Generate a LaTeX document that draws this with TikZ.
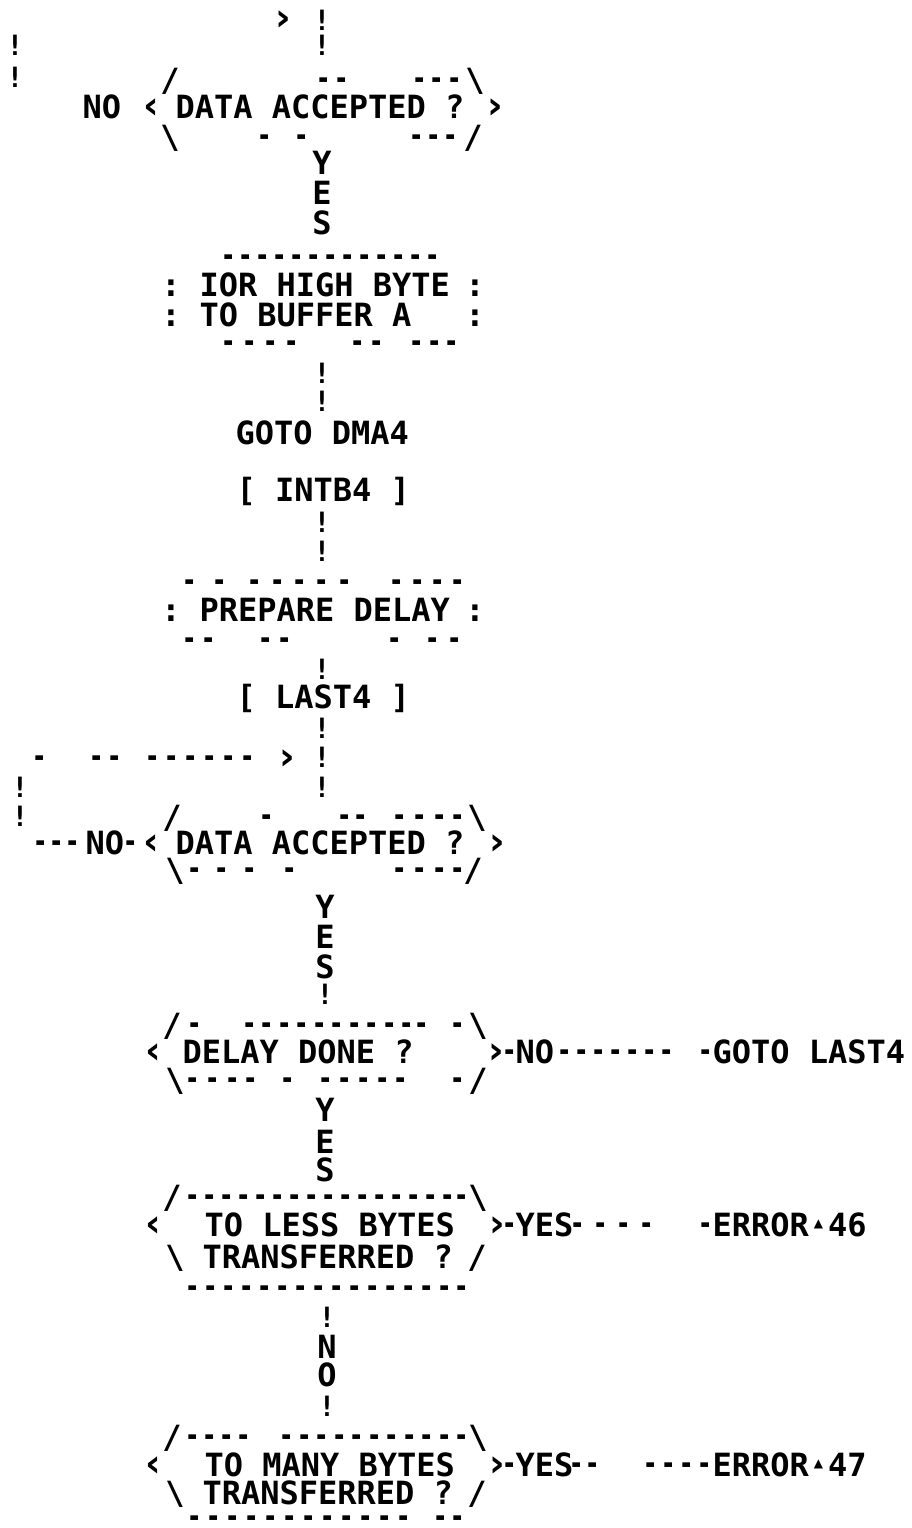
\documentclass[tikz,border=0pt]{standalone}
\usepackage{fontspec}
\newfontfamily\mono{DejaVu Sans Mono}
\newfontfamily\sym{DejaVu Sans}
\tikzset{
  base/.style={inner sep=0pt, outer sep=0pt, font=\mono\bfseries\fontsize{32}{32}\selectfont},
  txt/.style={base, anchor=base west},
  ch/.style={base, anchor=base},
  bang/.style={inner sep=0pt, outer sep=0pt, anchor=base, font=\mono\bfseries\fontsize{28}{28}\selectfont},
  dsh/.style={inner sep=0pt, outer sep=0pt, anchor=base, font=\sym\bfseries\fontsize{25}{25}\selectfont},
  chev/.style={inner sep=0pt, outer sep=0pt, anchor=base, font=\sym\bfseries\fontsize{38}{38}\selectfont},
}
\newcommand\T[4]{\node[txt] (#1) at (#2-2.5,#3+11.5) {#4};}
\newcommand\C[4]{\node[ch] (#1) at (#2,#3+11.5) {#4};}
\newcommand\B[3]{\node[bang] (#1) at (#2,#3+10) {!};}
\newcommand\V[4]{\node[chev] (#1) at (#2,#3+11) {#4};}
\newcommand\D[2]{\foreach \xx in {#2} {\node[dsh] (d#1-\xx) at (\xx,#1+9.5) {\scalebox{1.0}[1.3]{-}};}}
\newcommand\err{\makebox[19.3pt]{\raisebox{9pt}{\sym\fontsize{12}{12}\selectfont ▲}}}
\begin{document}
\begin{tikzpicture}[x=1pt,y=-1pt]
\useasboundingbox (0,0) rectangle (911,1528);
% top
\V{t1}{283}{20}{›}
\B{e1}{322}{21}
\B{e2}{322}{46}
\B{l1}{15}{46}
\B{l2}{15}{78}
% decision 1
\C{d1a}{170}{80}{/}
\D{80}{324,342,420,437,455}
\C{d1b}{475}{80}{\textbackslash}
\T{no1}{85}{107}{NO}
\V{d1l}{151}{107}{‹}
\T{q1}{178}{107}{DATA ACCEPTED ?}
\V{d1r}{495}{107}{›}
\C{d1c}{170}{137}{\textbackslash}
\D{137}{265,302,417,434,451}
\C{d1d}{473}{137}{/}
\C{y1}{322}{163}{Y}
\C{y2}{322}{193}{E}
\C{y3}{322}{223}{S}
% box IOR
\D{257}{229,246,263,280,297,314,331,348,365,382,399,416,433}
\C{c1}{171}{285}{:}
\T{ior}{202}{285}{IOR HIGH BYTE}
\C{c2}{475}{285}{:}
\C{c3}{171}{315}{:}
\T{buf}{202}{315}{TO BUFFER A}
\C{c4}{475}{315}{:}
\D{343}{229,250,271,292,358,377,417,435,452}
\B{e3}{322}{373}
\B{e4}{322}{401}
\T{goto1}{238}{433}{GOTO DMA4}
\T{intb}{239}{490}{[ INTB4 ]}
\B{e5}{322}{522}
\B{e6}{322}{551}
% box prepare
\D{582}{190,220,255,278,300,322,345,397,418,438,458}
\C{c5}{171}{610}{:}
\T{prep}{202}{610}{PREPARE DELAY}
\C{c6}{475}{610}{:}
\D{640}{190,209,266,285,395,433,455}
\B{e7}{322}{669}
\T{last}{239}{697}{[ LAST4 ]}
\B{e8}{322}{728}
\B{e9}{322}{757}
\B{e10}{322}{787}
\D{758}{40,97,115,153,172,191,210,229,248}
\V{t2}{287}{758}{›}
\B{l3}{20}{787}
\B{l4}{20}{816}
% decision 2
\C{d2a}{172}{817}{/}
\D{817}{267,345,361,400,420,440,458}
\C{d2b}{477}{817}{\textbackslash}
\D{843}{41,57,73,131}
\T{no2}{88}{843}{NO}
\V{d2l}{151}{843}{‹}
\T{q2}{178}{843}{DATA ACCEPTED ?}
\V{d2r}{497}{843}{›}
\C{d2c}{175}{870}{\textbackslash}
\D{870}{195,222,250,290,400,420,440,458}
\C{d2d}{473}{870}{/}
\C{y4}{325}{907}{Y}
\C{y5}{325}{937}{E}
\C{y6}{325}{967}{S}
\B{e11}{325}{994}
% decision 3
\C{d3a}{172}{1025}{/}
\D{1025}{195,250,267,285,302,320,337,355,372,390,407,422,458}
\C{d3b}{478}{1025}{\textbackslash}
\V{d3l}{153}{1052}{‹}
\T{q3}{185}{1052}{DELAY DONE ?}
\V{d3r}{496}{1052}{›}
\D{1052}{510,565,582,599,616,633,650,667,706}
\T{no3}{518}{1052}{NO}
\T{goto2}{715}{1052}{GOTO LAST4}
\C{d3c}{175}{1080}{\textbackslash}
\D{1080}{193,213,233,251,288,326,345,364,383,401,458}
\C{d3d}{478}{1080}{/}
\C{y7}{325}{1110}{Y}
\C{y8}{325}{1142}{E}
\C{y9}{325}{1170}{S}
% decision 4
\C{d4a}{172}{1197}{/}
\D{1197}{193,210,227,244,261,278,295,312,329,346,363,380,397,414,431,448,462}
\C{d4b}{478}{1197}{\textbackslash}
\V{d4l}{153}{1225}{‹}
\T{q4a}{207}{1225}{TO LESS BYTES}
\V{d4r}{497}{1225}{›}
\D{1225}{510,578,601,624,647,706}
\T{yes4}{518}{1225}{YES}
\T{err46}{715}{1225}{ERROR\err 46}
\C{d4c}{175}{1257}{\textbackslash}
\T{q4b}{205}{1257}{TRANSFERRED ?}
\C{d4d}{477}{1257}{/}
\D{1288}{193,211,229,247,265,283,301,319,337,355,373,391,409,427,445,462}
\B{e12}{327}{1317}
\C{n1}{327}{1347}{N}
\C{o1}{327}{1375}{O}
\B{e13}{327}{1406}
% decision 5
\C{d5a}{172}{1437}{/}
\D{1437}{193,210,227,244,287,305,322,340,357,375,392,410,427,445,462}
\C{d5b}{478}{1437}{\textbackslash}
\V{d5l}{153}{1465}{‹}
\T{q5a}{207}{1465}{TO MANY BYTES}
\V{d5r}{497}{1465}{›}
\D{1465}{510,577,593,651,669,687,705}
\T{yes5}{518}{1465}{YES}
\T{err47}{715}{1465}{ERROR\err 47}
\C{d5c}{175}{1493}{\textbackslash}
\T{q5b}{205}{1493}{TRANSFERRED ?}
\C{d5d}{477}{1493}{/}
\D{1518}{195,214,233,252,271,290,309,328,347,366,385,404,441,458}
\end{tikzpicture}
\end{document}
